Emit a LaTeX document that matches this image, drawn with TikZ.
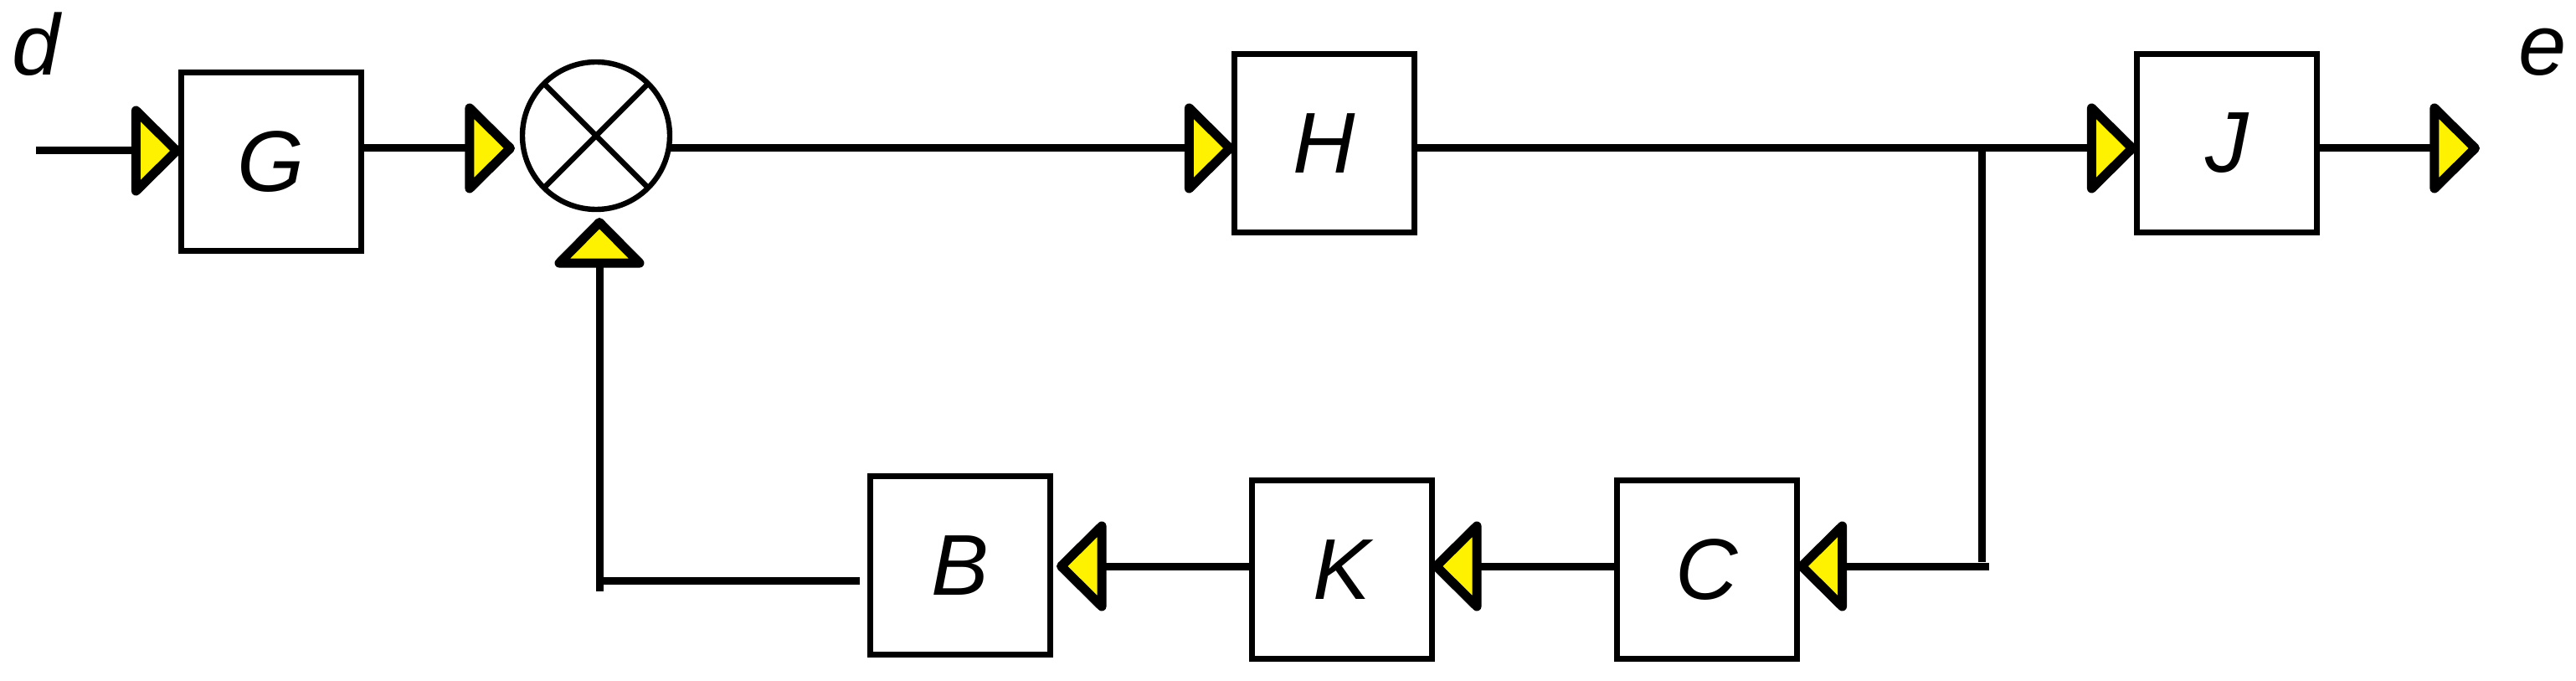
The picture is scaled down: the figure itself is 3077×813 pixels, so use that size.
\documentclass[tikz,border=0pt]{standalone}
\usepackage{fontspec}
\setmainfont{Liberation Sans}
\usetikzlibrary{arrows.meta,calc}
\newcommand\diaglab{\fontsize{25.75pt}{30pt}\selectfont\itshape}
\begin{document}
\begin{tikzpicture}[x=0.25pt,y=-0.25pt,
  box/.style={draw,line width=1.75pt,minimum width=53.75pt,minimum height=53.25pt,inner sep=0pt,outer sep=0pt,font=\diaglab},
  sumnode/.style={draw,circle,line width=1.6pt,minimum size=44pt,inner sep=0pt,outer sep=0pt},
  lbl/.style={font=\diaglab,anchor=base west,inner sep=0pt},
  conn/.style={line width=2.25pt},
  yt/.tip={Triangle[length=15.5pt,width=30pt,line width=0.5pt 1,fill=yellow,round]}]
\path[use as bounding box,fill=white] (0,0) rectangle (3077,813);
% blocks
\node[box] (G) at (324,193) {G};
\node[sumnode] (S) at (712,162) {};
\draw[line width=1.6pt] (S.45) -- (S.225) (S.135) -- (S.315);
\node[box] (H) at (1582,171) {H};
\node[box] (J) at (2660,171) {J};
\node[box] (B) at (1146.5,675) {B};
\node[box] (K) at (1602.5,680) {K};
\node[box] (C) at (2039,680) {C};
\node[lbl] (d) at (14,90) {d};
\node[lbl] (e) at (3008,90) {e};
% helper coordinates
\coordinate (in) at (43,180);
\coordinate (r1) at (0,177);
\coordinate (r2) at (0,676);
\coordinate (tapT) at (2367,177);
\coordinate (tapB) at (2367,671);
\coordinate (tapE) at (2376,676);
\coordinate (out) at (2962,177);
\coordinate (fbL) at (716,693);
\coordinate (fbD) at (716,706);
% connectors
\draw[conn,-yt] (in) -- (G.west |- in);
\draw[conn,-yt,shorten >=2.25pt] (G.east |- r1) -- (S.west |- r1);
\draw[conn,-yt] (S.east |- r1) -- (H.west |- r1);
\draw[conn,-yt] (H.east |- r1) -- (J.west |- r1);
\draw[conn,-yt] (J.east |- r1) -- (out);
\draw[conn] (tapT) -- (tapB);
\draw[conn,-yt] (tapE) -- (C.east |- r2);
\draw[conn,-yt] (C.west |- r2) -- (K.east |- r2);
\draw[conn,-yt,shorten >=2pt] (K.west |- r2) -- (B.east |- r2);
\draw[conn,shorten <=3pt] (B.west |- fbL) -- (fbL);
\draw[conn,-yt,shorten >=2.5pt] (fbD) -- (S.south -| fbD);
\end{tikzpicture}
\end{document}
